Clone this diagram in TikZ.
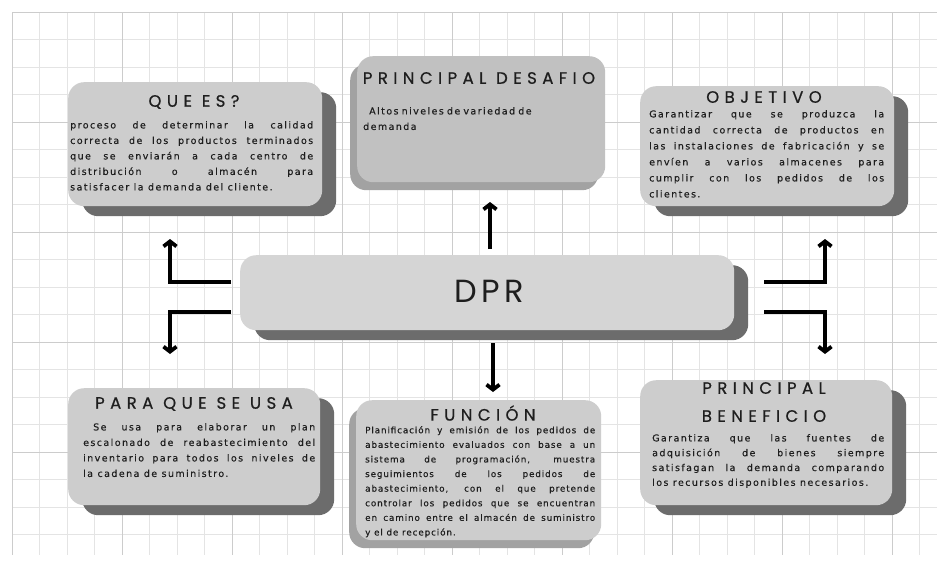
\documentclass[tikz,border=0pt]{standalone}
\usepackage{fontspec}
\setmainfont{DejaVu Sans}
\newfontfamily\titlefont[LetterSpace=33, FakeBold=0.6]{Poppins}
\newfontfamily\bigfont[LetterSpace=14]{Poppins}
\newfontfamily\bodyfont[LetterSpace=15, FakeBold=0.3]{DejaVu Sans}
\newfontfamily\densefont[LetterSpace=10, FakeBold=0.3]{DejaVu Sans}
\usetikzlibrary{arrows.meta,shadows}

\definecolor{boxfill}{HTML}{CDCDCD}
\definecolor{dprfill}{HTML}{D5D5D5}
\definecolor{boxshade}{HTML}{6C6C6C}
\definecolor{softshade}{HTML}{A2A2A2}
\definecolor{gridminor}{HTML}{E4E4E4}
\definecolor{gridmajor}{HTML}{CCCCCC}
\definecolor{ink}{HTML}{1E1E1E}

\begin{document}
\begin{tikzpicture}[x=1pt,y=-1pt,
  card/.style={fill=boxfill, rounded corners=16pt, anchor=north west, inner sep=0pt},
  darkshadow/.style={drop shadow={shadow xshift=14pt, shadow yshift=-10pt, fill=boxshade, opacity=1}},
  softshadow/.style={drop shadow={shadow xshift=-7pt, shadow yshift=-8pt, fill=softshade, opacity=1}},
  cardtitle/.style={font=\titlefont\fontsize{16.5}{19}\selectfont, text=ink, inner sep=0pt},
  cardbody/.style={font=\bodyfont\fontsize{9.5}{15.5}\selectfont, text=ink, align=justify, inner sep=0pt, anchor=north west},
  link/.style={line width=3.8pt, draw=black, -{Straight Barb[length=5pt,width=13pt]}}
]
\useasboundingbox (0,0) rectangle (947,565);

% squared paper
\fill[white] (0,0) rectangle (947,565);
\foreach \gx in {12,39.5,...,937} \draw[gridminor, line width=0.6pt] (\gx,12) -- (\gx,555);
\foreach \gy in {12,39.5,...,555} \draw[gridminor, line width=0.6pt] (12,\gy) -- (937,\gy);
\foreach \gx in {12,122,...,937} \draw[gridmajor, line width=0.7pt] (\gx,12) -- (\gx,555);
\foreach \gy in {12,122,...,555} \draw[gridmajor, line width=0.7pt] (12,\gy) -- (937,\gy);

% cards
\node[card, darkshadow, minimum width=254pt, minimum height=124pt] (que) at (68,82) {};
\node[card, softshadow, fill=boxfill!94!black, minimum width=248pt, minimum height=126pt] (desafio) at (357,56) {};
\node[card, darkshadow, minimum width=254pt, minimum height=120pt] (objetivo) at (640,86) {};
\node[card, darkshadow, fill=dprfill, minimum width=494pt, minimum height=75pt] (dpr) at (240,255) {};
\node[card, darkshadow, minimum width=252pt, minimum height=117pt] (para) at (68,388) {};
\node[card, softshadow, minimum width=245pt, minimum height=140pt] (funcion) at (356,400) {};
\node[card, darkshadow, minimum width=252pt, minimum height=125pt] (beneficio) at (640,380) {};

% titles
\node[cardtitle] (que-t) at (194,102) {QUE ES?};
\node[cardtitle] (desafio-t) at (479,78) {PRINCIPAL DESAFIO};
\node[cardtitle] (objetivo-t) at (764,97) {OBJETIVO};
\node[font=\bigfont\fontsize{32}{36}\selectfont, text=ink, inner sep=0pt] (dpr-t) at (489,291) {DPR};
\node[cardtitle] (para-t) at (194,404) {PARA QUE SE USA};
\node[cardtitle] (funcion-t) at (483,413) {FUNCIÓN};
\node[cardtitle] (beneficio-t1) at (764,388) {PRINCIPAL};
\node[cardtitle] (beneficio-t2) at (764,416) {BENEFICIO};

% body texts
\node[cardbody, text width=243pt] (que-b) at (70,121) {proceso de determinar la calidad\linebreak correcta de los productos terminados\linebreak que se enviarán a cada centro de\linebreak distribución o almacén para\linebreak satisfacer la demanda del cliente.};
\node[cardbody, text width=200pt, align=left] (desafio-b) at (363,107) {\hspace*{6pt}Altos niveles de variedad de\\demanda};
\node[cardbody, text width=235pt, font=\bodyfont\fontsize{9.5}{16}\selectfont] (objetivo-b) at (649,110) {Garantizar que se produzca la\linebreak cantidad correcta de productos en\linebreak las instalaciones de fabricación y se\linebreak envíen a varios almacenes para\linebreak cumplir con los pedidos de los\linebreak clientes.};
\node[cardbody, text width=232pt] (para-b) at (83,423) {\hspace*{10pt}Se usa para elaborar un plan\linebreak escalonado de reabastecimiento del\linebreak inventario para todos los niveles de\linebreak la cadena de suministro.};
\node[cardbody, text width=230pt, font=\densefont\fontsize{8.8}{14.6}\selectfont] (funcion-b) at (365,426) {Planificación y emisión de los pedidos de\linebreak abastecimiento evaluados con base a un\linebreak sistema de programación, muestra\linebreak seguimientos de los pedidos de\linebreak abastecimiento, con el que pretende\linebreak controlar los pedidos que se encuentran\linebreak en camino entre el almacén de suministro\linebreak y el de recepción.};
\node[cardbody, text width=232pt, font=\bodyfont\fontsize{9.5}{14.8}\selectfont] (beneficio-b) at (652,434) {Garantiza que las fuentes de\linebreak adquisición de bienes siempre\linebreak satisfagan la demanda comparando\linebreak los recursos disponibles necesarios.};

% connector end points
\coordinate (up-s) at (490,249);
\coordinate (up-e) at (490,202);
\coordinate (dn-s) at (493,343);
\coordinate (dn-e) at (493,392);
\coordinate (lt-s) at (231,282);
\coordinate (lt-c) at (170,282);
\coordinate (lt-e) at (170,239);
\coordinate (lb-s) at (231,312);
\coordinate (lb-c) at (170,312);
\coordinate (lb-e) at (170,354);
\coordinate (rt-s) at (764,282);
\coordinate (rt-c) at (825,282);
\coordinate (rt-e) at (825,239);
\coordinate (rb-s) at (764,312);
\coordinate (rb-c) at (825,312);
\coordinate (rb-e) at (825,354);

% connectors
\draw[link] (up-s) -- (up-e);
\draw[link] (dn-s) -- (dn-e);
\draw[link] (lt-s) -- (lt-c) -- (lt-e);
\draw[link] (lb-s) -- (lb-c) -- (lb-e);
\draw[link] (rt-s) -- (rt-c) -- (rt-e);
\draw[link] (rb-s) -- (rb-c) -- (rb-e);
\end{tikzpicture}
\end{document}
